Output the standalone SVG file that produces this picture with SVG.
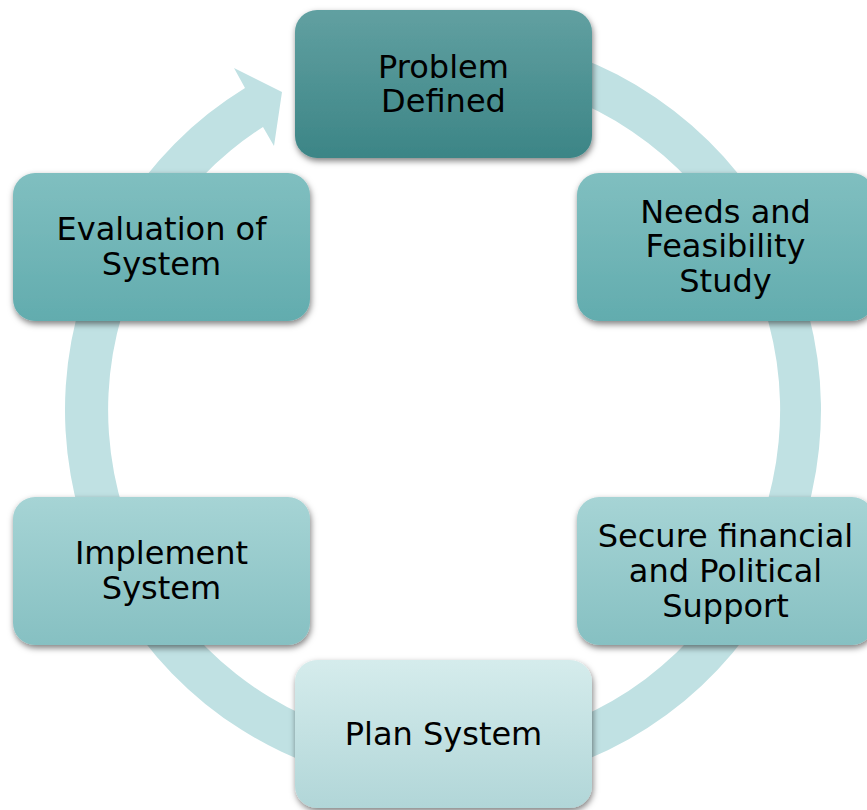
<svg xmlns="http://www.w3.org/2000/svg" width="867" height="810" viewBox="0 0 867 810">
  <defs>
    <linearGradient id="gDark" x1="0" y1="0" x2="0" y2="1">
      <stop offset="0" stop-color="#61a0a1"/>
      <stop offset="1" stop-color="#3c8586"/>
    </linearGradient>
    <linearGradient id="gMid" x1="0" y1="0" x2="0" y2="1">
      <stop offset="0" stop-color="#80bfc0"/>
      <stop offset="1" stop-color="#62acae"/>
    </linearGradient>
    <linearGradient id="gLight" x1="0" y1="0" x2="0" y2="1">
      <stop offset="0" stop-color="#a6d4d5"/>
      <stop offset="1" stop-color="#86c0c2"/>
    </linearGradient>
    <linearGradient id="gPale" x1="0" y1="0" x2="0" y2="1">
      <stop offset="0" stop-color="#d5ecec"/>
      <stop offset="1" stop-color="#b1d6d8"/>
    </linearGradient>
    <filter id="shadow" x="-10%" y="-15%" width="120%" height="135%">
      <feDropShadow dx="1" dy="3" stdDeviation="3" flood-color="#000" flood-opacity="0.5"/>
    </filter>
  </defs>
  <style>
    .box { filter: url(#shadow); }
    .lbl { font-family: "DejaVu Sans", Verdana, sans-serif; font-size: 32px; fill: #000; text-anchor: middle; }
    .ring { fill: #c0e1e3; }
  </style>

  <!-- circular flow arrow, centre (443.5,410), band 336..378 -->
  <g id="connectors">
    <path class="ring" d="M443.5,32 A378,378 0 1 1 245,88 L234,68 L282,92 L274,146 L263,127 A336,336 0 1 0 443.5,74 Z"/>
  </g>

  <g id="node-problem">
    <rect class="box" x="295" y="10" width="297" height="148" rx="22" fill="url(#gDark)"/>
    <text class="lbl" x="443.5" y="77.5">Problem</text>
    <text class="lbl" x="443.5" y="112">Defined</text>
  </g>

  <g id="node-needs">
    <rect class="box" x="577" y="173" width="297" height="148" rx="22" fill="url(#gMid)"/>
    <text class="lbl" x="725.5" y="222.5">Needs and</text>
    <text class="lbl" x="725.5" y="257">Feasibility</text>
    <text class="lbl" x="725.5" y="291.5">Study</text>
  </g>

  <g id="node-secure">
    <rect class="box" x="577" y="497" width="297" height="148" rx="22" fill="url(#gLight)"/>
    <text class="lbl" x="725.5" y="546.5">Secure financial</text>
    <text class="lbl" x="725.5" y="581.5">and Political</text>
    <text class="lbl" x="725.5" y="616.5">Support</text>
  </g>

  <g id="node-plan">
    <rect class="box" x="295" y="660" width="297" height="148" rx="22" fill="url(#gPale)"/>
    <text class="lbl" x="443.5" y="745">Plan System</text>
  </g>

  <g id="node-implement">
    <rect class="box" x="13" y="497" width="297" height="148" rx="22" fill="url(#gLight)"/>
    <text class="lbl" x="161.5" y="564">Implement</text>
    <text class="lbl" x="161.5" y="599">System</text>
  </g>

  <g id="node-evaluation">
    <rect class="box" x="13" y="173" width="297" height="148" rx="22" fill="url(#gMid)"/>
    <text class="lbl" x="161.5" y="239.5">Evaluation of</text>
    <text class="lbl" x="161.5" y="274.5">System</text>
  </g>
</svg>
